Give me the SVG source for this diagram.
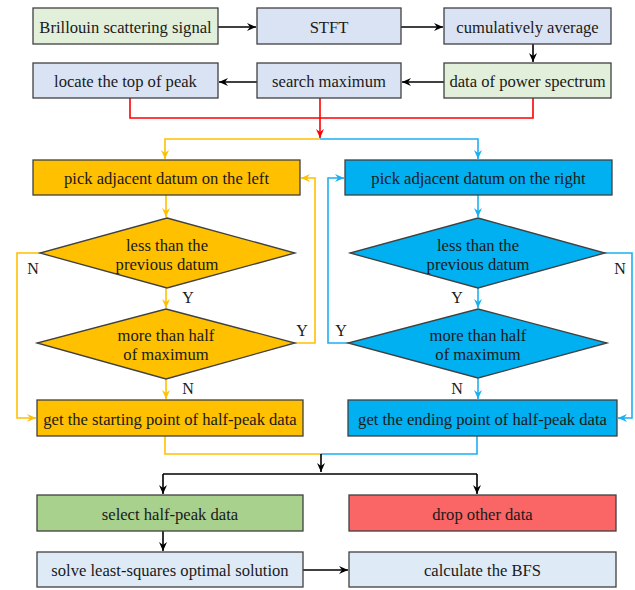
<svg xmlns="http://www.w3.org/2000/svg" width="635" height="590" viewBox="0 0 635 590">
<style>
.b{stroke:#404040;stroke-width:1.3}
.t{font-family:'Liberation Serif','Tinos','DejaVu Serif',serif;font-size:16.6px;fill:#1a1a1a;text-anchor:middle;dominant-baseline:central}
.l{font-family:'Liberation Serif','Tinos','DejaVu Serif',serif;font-size:16px;fill:#1a1a1a;text-anchor:middle;dominant-baseline:central}
.k{fill:none;stroke:#000;stroke-width:1.6}
.r{fill:none;stroke:#ff0000;stroke-width:1.6}
.y{fill:none;stroke:#ffc000;stroke-width:1.6}
.c{fill:none;stroke:#1cb0f0;stroke-width:1.6}
</style>
<defs>
<marker id="ak" markerWidth="10" markerHeight="10" refX="9" refY="5" orient="auto" markerUnits="userSpaceOnUse"><path d="M0,1 L9,5 L0,9 L3,5 z" fill="#000"/></marker>
<marker id="ar" markerWidth="10" markerHeight="10" refX="9" refY="5" orient="auto" markerUnits="userSpaceOnUse"><path d="M0,1 L9,5 L0,9 L3,5 z" fill="#ff0000"/></marker>
<marker id="ay" markerWidth="10" markerHeight="10" refX="9" refY="5" orient="auto" markerUnits="userSpaceOnUse"><path d="M0,1 L9,5 L0,9 L3,5 z" fill="#ffc000"/></marker>
<marker id="ac" markerWidth="10" markerHeight="10" refX="9" refY="5" orient="auto" markerUnits="userSpaceOnUse"><path d="M0,1 L9,5 L0,9 L3,5 z" fill="#1cb0f0"/></marker>
</defs>
<g id="connectors">
<path class="k" d="M218,27 H256" marker-end="url(#ak)"/>
<path class="k" d="M401,27 H443" marker-end="url(#ak)"/>
<path class="k" d="M533,44 V62" marker-end="url(#ak)"/>
<path class="k" d="M444,82 H402" marker-end="url(#ak)"/>
<path class="k" d="M257,82 H219" marker-end="url(#ak)"/>
<path class="r" d="M130,98 V118 H533 V98"/>
<path class="r" d="M320,98 V138" marker-end="url(#ar)"/>
<path class="y" d="M320,139 H165 V159" marker-end="url(#ay)"/>
<path class="c" d="M320,139 H478 V159" marker-end="url(#ac)"/>
<path class="y" d="M166,195 V217" marker-end="url(#ay)"/>
<path class="y" d="M166,288 V308" marker-end="url(#ay)"/>
<path class="y" d="M166,379 V399" marker-end="url(#ay)"/>
<path class="y" d="M40,253 H17 V418 H36" marker-end="url(#ay)"/>
<path class="y" d="M295,343 H315 V178 H301" marker-end="url(#ay)"/>
<path class="c" d="M478,195 V217" marker-end="url(#ac)"/>
<path class="c" d="M478,288 V308" marker-end="url(#ac)"/>
<path class="c" d="M478,378 V399" marker-end="url(#ac)"/>
<path class="c" d="M605,253 H632 V418 H618" marker-end="url(#ac)"/>
<path class="c" d="M348,343 H328 V178 H344" marker-end="url(#ac)"/>
<path class="y" d="M165,436 V454 H321"/>
<path class="c" d="M477,436 V454 H321"/>
<path class="k" d="M321,454 V472" marker-end="url(#ak)"/>
<path class="k" d="M163,474 H477"/>
<path class="k" d="M163,474 V494" marker-end="url(#ak)"/>
<path class="k" d="M477,474 V494" marker-end="url(#ak)"/>
<path class="k" d="M163,531 V551" marker-end="url(#ak)"/>
<path class="k" d="M303,570 H348" marker-end="url(#ak)"/>
<text class="l" x="33" y="268">N</text>
<text class="l" x="188" y="297">Y</text>
<text class="l" x="302" y="330">Y</text>
<text class="l" x="188" y="388">N</text>
<text class="l" x="620" y="268">N</text>
<text class="l" x="457" y="297">Y</text>
<text class="l" x="341" y="330">Y</text>
<text class="l" x="457" y="388">N</text>
</g>
<g id="n1"><rect class="b" x="33" y="8" width="185" height="36" fill="#e2efda"/><text class="t" x="125.5" y="27">Brillouin scattering signal</text></g>
<g id="n2"><rect class="b" x="257" y="8" width="144" height="36" fill="#dae3f3"/><text class="t" x="329" y="27">STFT</text></g>
<g id="n3"><rect class="b" x="444" y="8" width="167" height="36" fill="#dae3f3"/><text class="t" x="527.5" y="27">cumulatively average</text></g>
<g id="n4"><rect class="b" x="444" y="63" width="167" height="35" fill="#e2efda"/><text class="t" x="527.5" y="81">data of power spectrum</text></g>
<g id="n5"><rect class="b" x="257" y="63" width="144" height="35" fill="#dae3f3"/><text class="t" x="329" y="81">search maximum</text></g>
<g id="n6"><rect class="b" x="33" y="63" width="185" height="35" fill="#dae3f3"/><text class="t" x="125.5" y="81">locate the top of peak</text></g>
<g id="n7"><rect class="b" x="33" y="160" width="267" height="35" fill="#ffc000"/><text class="t" x="166.5" y="178">pick adjacent datum on the left</text></g>
<g id="n8"><rect class="b" x="345" y="160" width="267" height="35" fill="#00b0f0"/><text class="t" x="478.5" y="178">pick adjacent datum on the right</text></g>
<g id="n9"><polygon class="b" points="167,218 295,253 167,288 40,253" fill="#ffc000"/><text class="t" x="167" y="245">less than the</text><text class="t" x="167" y="264">previous datum</text></g>
<g id="n10"><polygon class="b" points="478,218 605,253 478,288 350,253" fill="#00b0f0"/><text class="t" x="478" y="245">less than the</text><text class="t" x="478" y="264">previous datum</text></g>
<g id="n11"><polygon class="b" points="166,309 295,343 166,379 37,343" fill="#ffc000"/><text class="t" x="166" y="335">more than half</text><text class="t" x="166" y="354">of maximum</text></g>
<g id="n12"><polygon class="b" points="478,309 607,343 478,378 348,343" fill="#00b0f0"/><text class="t" x="478" y="335">more than half</text><text class="t" x="478" y="354">of maximum</text></g>
<g id="n13"><rect class="b" x="37" y="400" width="266" height="36" fill="#ffc000"/><text class="t" x="170" y="419">get the starting point of half-peak data</text></g>
<g id="n14"><rect class="b" x="348" y="400" width="269" height="36" fill="#00b0f0"/><text class="t" x="482.5" y="419">get the ending point of half-peak data</text></g>
<g id="n15"><rect class="b" x="37" y="495" width="266" height="36" fill="#a9d18e"/><text class="t" x="170" y="514">select half-peak data</text></g>
<g id="n16"><rect class="b" x="349" y="495" width="267" height="36" fill="#fa6565"/><text class="t" x="482.5" y="514">drop other data</text></g>
<g id="n17"><rect class="b" x="37" y="552" width="266" height="35" fill="#deebf7"/><text class="t" x="170" y="570">solve least-squares optimal solution</text></g>
<g id="n18"><rect class="b" x="349" y="552" width="267" height="35" fill="#deebf7"/><text class="t" x="482.5" y="570">calculate the BFS</text></g>
</svg>
